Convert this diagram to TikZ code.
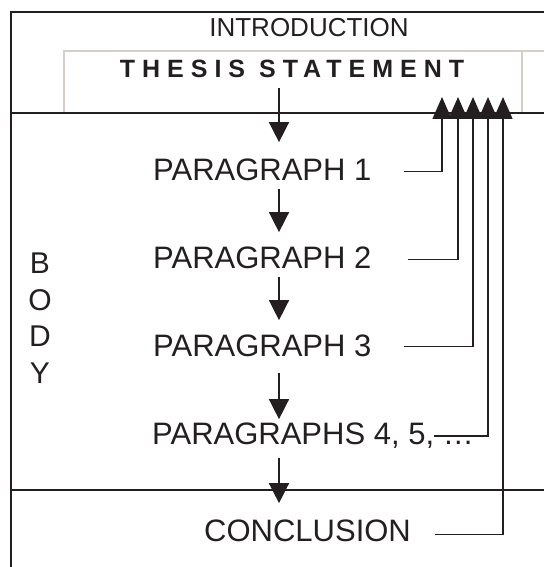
\documentclass[tikz,border=0pt]{standalone}
\usepackage{fontspec}
\setmainfont{Liberation Sans}
\newfontfamily\thesisfont[LetterSpace=28]{Liberation Sans Bold}
\usetikzlibrary{arrows.meta}
\definecolor{ink}{HTML}{231F20}
\definecolor{frame}{HTML}{D4D0C8}
\begin{document}
\begin{tikzpicture}[x=1pt,y=-1pt,
  rule/.style={draw=ink,line width=2pt},
  grayrule/.style={draw=frame,line width=2.5pt},
  flow/.style={draw=ink,line width=1.5pt,-{Triangle[width=20pt,length=20pt]}},
  back/.style={draw=ink,line width=1.5pt,-{Triangle[width=19pt,length=22pt]}},
  lbl/.style={text=ink,font=\fontsize{31}{31}\selectfont,inner sep=0pt,anchor=base west},
  head/.style={text=ink,inner sep=0pt,anchor=base},
]
\useasboundingbox (0,0) rectangle (544,567);
% frame lines
\draw[grayrule] (64,113) |- (544,51);
\draw[grayrule] (522,51) -- (522,113);
\draw[rule] (11,567) |- (544,12);
\draw[rule] (11,113) -- (544,113);
\draw[rule] (11,490) -- (544,490);
% texts
\node[head,font=\fontsize{26}{26}\selectfont] (intro) at (309,37) {INTRODUCTION};
\node[head,font=\thesisfont\fontsize{25}{25}\selectfont] (thesis) at (292,78) {THESIS STATEMENT};
\node[lbl] (p1) at (153,180) {PARAGRAPH 1};
\node[lbl] (p2) at (153,268) {PARAGRAPH 2};
\node[lbl] (p3) at (153,356) {PARAGRAPH 3};
\node[lbl] (p4) at (152,444) {PARAGRAPHS 4, 5, …};
\node[lbl] (concl) at (204,541) {CONCLUSION};
\node[text=ink,font=\fontsize{30}{36.5}\selectfont,align=center,inner sep=0pt,anchor=north] (body) at (40,253) {B\\O\\D\\Y};
% spine
\coordinate (spine) at (279,0);
\coordinate (s0) at (279,88);
\draw[flow] (s0) -- ([yshift=16pt]p1.north -| spine);
\draw[flow] ([yshift=-8pt]p1.south -| spine) -- ([yshift=14pt]p2.north -| spine);
\draw[flow] ([yshift=-8pt]p2.south -| spine) -- ([yshift=14pt]p3.north -| spine);
\draw[flow] ([yshift=-16pt]p3.south -| spine) -- ([yshift=3pt]p4.north -| spine);
\draw[flow] ([yshift=-10pt]p4.south -| spine) -- ([yshift=16pt]concl.north -| spine);
% feedback arrows
\coordinate (t1) at (442,97);
\coordinate (t2) at (458,97);
\coordinate (t3) at (473,97);
\coordinate (t4) at (488,97);
\coordinate (t5) at (503,97);
\draw[back] ([xshift=32pt,yshift=-2pt]p1.east) -| (t1);
\draw[back] ([xshift=36pt,yshift=-2pt]p2.east) -| (t2);
\draw[back] ([xshift=32pt,yshift=-1pt]p3.east) -| (t3);
\draw[back] ([xshift=-40pt,yshift=-1pt]p4.east) -| (t4);
\draw[back] ([xshift=24pt,yshift=-4pt]concl.east) -| (t5);
\end{tikzpicture}
\end{document}
